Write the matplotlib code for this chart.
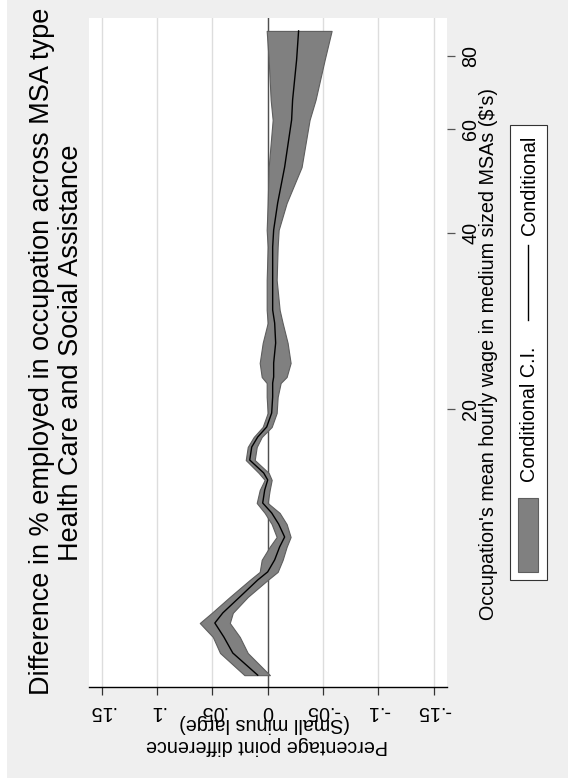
import numpy as np
import matplotlib
matplotlib.use("Agg")
import matplotlib.pyplot as plt
from matplotlib.patches import Rectangle
from matplotlib.lines import Line2D
from matplotlib.ticker import NullLocator

plt.rcParams['font.family'] = ['Liberation Sans', 'DejaVu Sans']

# ---------------- data ----------------
wage = [7.05, 7.69, 8.19, 8.65, 9.00, 9.58, 10.24, 10.57, 11.08, 11.66, 12.12,
        12.75, 13.32, 13.85, 14.57, 15.16, 15.58, 16.39, 17.25, 17.94, 18.66,
        19.71, 20.99, 22.17, 22.70, 23.98, 25.94, 28.05, 29.52, 33.21, 37.80,
        40.4, 44.9, 51.7, 62.2, 67.3, 78.7, 88.2]
cond = [0.0090, 0.0315, 0.0396, 0.0477, 0.0405, 0.0252, 0.0090, 0.0000, -0.0063,
        -0.0108, -0.0153, -0.0099, -0.0036, 0.0045, 0.0027, 0.0000, 0.0036,
        0.0162, 0.0144, 0.0090, 0.0009, -0.0036, -0.0045, -0.0045, -0.0054,
        -0.0054, -0.0072, -0.0063, -0.0045, -0.0045, -0.0045, -0.0054, -0.0090,
        -0.0153, -0.0216, -0.0225, -0.0261, -0.0279]
ci_upper = [0.0210, 0.0430, 0.0495, 0.0613, 0.0505, 0.0342, 0.0162, 0.0072, 0.0054,
            -0.0018, -0.0081, -0.0036, 0.0027, 0.0099, 0.0072, 0.0027, 0.0081,
            0.0198, 0.0180, 0.0126, 0.0045, 0.0000, 0.0009, 0.0009, 0.0054,
            0.0072, 0.0045, 0.0000, 0.0009, 0.0009, 0.0000, 0.0009, 0.0000,
            -0.0009, -0.0045, -0.0027, -0.0009, 0.0009]
ci_lower = [-0.0020, 0.0180, 0.0252, 0.0342, 0.0315, 0.0180, 0.0000, -0.0090, -0.0135,
            -0.0171, -0.0207, -0.0171, -0.0108, 0.0000, -0.0018, -0.0036, -0.0009,
            0.0117, 0.0099, 0.0054, -0.0036, -0.0081, -0.0090, -0.0117, -0.0171,
            -0.0207, -0.0180, -0.0135, -0.0108, -0.0081, -0.0090, -0.0099, -0.0171,
            -0.0306, -0.0378, -0.0432, -0.0514, -0.0577]

diff_ticks = [0.15, 0.10, 0.05, 0.0, -0.05, -0.10, -0.15]
diff_labels = ['.15', '.1', '.05', '0', '-.05', '-.1', '-.15']
wage_ticks = [20, 40, 60, 80]
wage_labels = ['20', '40', '60', '80']

title1 = "Difference in % employed in occupation across MSA type"
title2 = "Health Care and Social Assistance"
xtitle = "Occupation's mean hourly wage in medium sized MSAs ($'s)"
ytitle1 = "Percentage point difference"
ytitle2 = "(Small minus large)"
leg_labels = ["Conditional C.I.", "Conditional"]

# ---------------- figure ----------------
W, H = 568, 782
fig = plt.figure(figsize=(W / 100, H / 100), dpi=100)
fig.patch.set_facecolor('white')


def fx(x):
    return x / W


def fy(y):
    return 1 - y / H


BG = '#efefef'
BAND = '#808080'
BAND_EDGE = '#5e5e5e'

fig.patches.append(Rectangle((fx(7), fy(778)), fx(568) - fx(7), fy(0) - fy(778),
                             transform=fig.transFigure, facecolor=BG,
                             edgecolor='none', zorder=-10))

ax = fig.add_axes([fx(89), fy(687), fx(446.7) - fx(89), fy(18) - fy(687)])
ax.set_facecolor('white')
ax.set_yscale('log')

ax.fill_betweenx(wage, ci_upper, ci_lower, facecolor=BAND, edgecolor=BAND_EDGE,
                 linewidth=0.8, zorder=3)
ax.plot(cond, wage, color='black', linewidth=1.0, zorder=4)
ax.axvline(0, color='#505050', linewidth=1.0, zorder=2)

ax.set_xlim(0.1613, -0.1616)
ax.set_ylim(6.73, 92.78)

ax.set_xticks(diff_ticks)
ax.set_xticklabels(diff_labels)
ax.set_yticks(wage_ticks)
ax.set_yticklabels(wage_labels)
ax.yaxis.set_minor_locator(NullLocator())
ax.yaxis.tick_right()
ax.grid(axis='x', color='#dddddd', linewidth=1.0, zorder=1)
ax.grid(axis='y', visible=False)

for s in ['top', 'left', 'right']:
    ax.spines[s].set_visible(False)
ax.spines['bottom'].set_color('black')
ax.spines['bottom'].set_linewidth(1.0)

ax.tick_params(axis='x', direction='out', length=5.8, width=0.9, color='#333333',
               pad=11.6, labelsize=14.2, labelrotation=180)
ax.tick_params(axis='y', which='major', direction='out', length=5.8, width=0.9,
               color='#555555', pad=11.5, labelsize=14.2, labelrotation=90,
               right=True, left=False)
plt.setp(ax.get_xticklabels(), ha='center', va='center')
plt.setp(ax.get_yticklabels(), ha='center', va='center')

# titles
fig.text(fx(42.5), fy(351.5), title1, rotation=90, ha='center', va='center',
         fontsize=19.5)
fig.text(fx(70.8), fy(352.5), title2, rotation=90, ha='center', va='center',
         fontsize=19.5)
fig.text(fx(488), fy(353.5), xtitle, rotation=90, ha='center', va='center',
         fontsize=14.2)
fig.text(fx(267.5), fy(746), ytitle1, rotation=180, ha='center', va='center',
         fontsize=14.2)
fig.text(fx(265), fy(723.5), ytitle2, rotation=180, ha='center', va='center',
         fontsize=14.2)

# legend (drawn manually, rotated)
fig.patches.append(Rectangle((fx(510), fy(580)), fx(546.7) - fx(510), fy(125) - fy(580),
                             transform=fig.transFigure, facecolor='white',
                             edgecolor='#333333', linewidth=0.8, zorder=5))
fig.patches.append(Rectangle((fx(518.3), fy(571.7)), fx(538.3) - fx(518.3),
                             fy(498) - fy(571.7), transform=fig.transFigure,
                             facecolor=BAND, edgecolor=BAND_EDGE, linewidth=0.8,
                             zorder=6))
fig.lines.append(Line2D([fx(528.3), fx(528.3)], [fy(320), fy(245)],
                        transform=fig.transFigure, color='black', linewidth=1.0,
                        zorder=6))
fig.text(fx(529.5), fy(414), leg_labels[0], rotation=90, ha='center', va='center',
         fontsize=14.2, zorder=7)
fig.text(fx(529.5), fy(185), leg_labels[1], rotation=90, ha='center', va='center',
         fontsize=14.2, zorder=7)

fig.savefig('out.png', dpi=100, facecolor=fig.get_facecolor())
